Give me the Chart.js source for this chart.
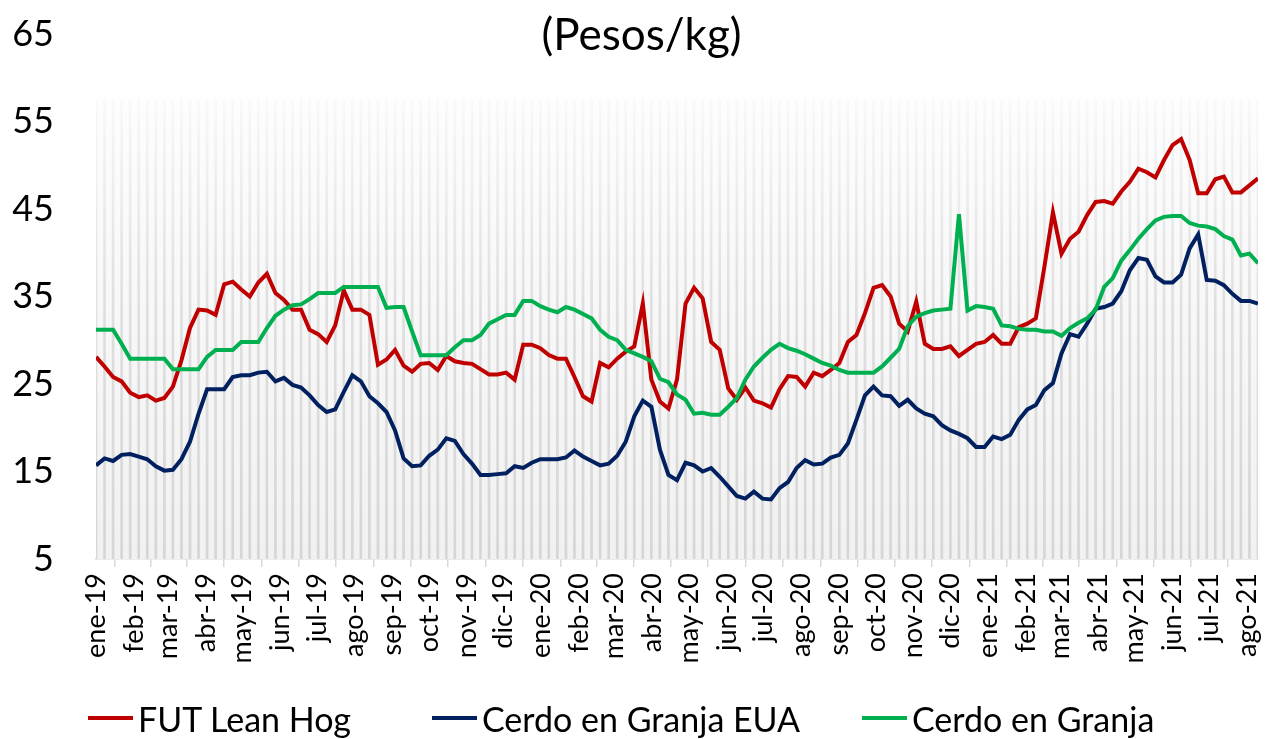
<!DOCTYPE html>
<html>
<head>
<meta charset="utf-8"/>
<title>Precios cerdo</title>
<style>
  body { margin: 0; background: #ffffff; }
  #wrap { position: relative; width: 1265px; height: 739px; font-family: Lato, "Open Sans", sans-serif; }
  #titulo { position: absolute; left: 0; width: 1265px; top: 6px; text-align: center; font-size: 44px; color: #000; line-height: 54px; padding-left: 18px; box-sizing: border-box; }
  .leg { position: absolute; top: 697px; height: 42px; display: flex; align-items: center; font-size: 34px; color: #000; white-space: nowrap; }
  .leg span.ln { display: inline-block; width: 45px; height: 4px; margin-right: 5px; }
</style>
</head>
<body>
<div id="wrap">
  <canvas id="grafica" width="1265" height="739"></canvas>
  <div id="titulo">(Pesos/kg)</div>
  <div class="leg" style="left:88px"><span class="ln" style="background:#c00000"></span>FUT Lean Hog</div>
  <div class="leg" style="left:432px"><span class="ln" style="background:#002060"></span>Cerdo en Granja EUA</div>
  <div class="leg" style="left:862px"><span class="ln" style="background:#00b050"></span>Cerdo en Granja</div>
</div>

<script src="https://cdn.jsdelivr.net/npm/chart.js"></script>
<script>
    // semanas desde el 1 de enero de 2019
    const inicio = Date.UTC(2019, 0, 1);

    const meses = ["ene-19", "feb-19", "mar-19", "abr-19", "may-19", "jun-19", "jul-19", "ago-19", "sep-19", "oct-19", "nov-19", "dic-19",
                   "ene-20", "feb-20", "mar-20", "abr-20", "may-20", "jun-20", "jul-20", "ago-20", "sep-20", "oct-20", "nov-20", "dic-20",
                   "ene-21", "feb-21", "mar-21", "abr-21", "may-21", "jun-21", "jul-21", "ago-21"];

    const futLeanHog = [28.1, 27.0, 25.8, 25.3, 24.0, 23.5, 23.7, 23.1, 23.4, 24.7,
        27.7, 31.4, 33.5, 33.4, 32.9, 36.4, 36.7, 35.8, 35.0, 36.6,
        37.6, 35.4, 34.6, 33.5, 33.5, 31.2, 30.7, 29.8, 31.7, 35.7,
        33.5, 33.5, 32.9, 27.2, 27.8, 28.9, 27.1, 26.4, 27.3, 27.4,
        26.6, 28.2, 27.6, 27.4, 27.3, 26.7, 26.1, 26.1, 26.3, 25.5,
        29.5, 29.5, 29.1, 28.3, 27.9, 27.9, 25.8, 23.6, 23.0, 27.4,
        26.9, 27.9, 28.7, 29.3, 34.2, 25.5, 23.0, 22.2, 25.5, 34.2,
        36.0, 34.8, 29.8, 28.9, 24.5, 23.2, 24.6, 23.1, 22.8, 22.3,
        24.4, 25.9, 25.8, 24.7, 26.3, 25.9, 26.6, 27.4, 29.8, 30.6,
        33.1, 36.0, 36.3, 35.0, 31.9, 31.0, 34.4, 29.6, 29.0, 29.0,
        29.3, 28.2, 28.9, 29.6, 29.8, 30.6, 29.6, 29.6, 31.5, 31.9,
        32.5, 38.4, 44.6, 39.9, 41.6, 42.4, 44.3, 45.8, 45.9, 45.6,
        47.0, 48.1, 49.6, 49.2, 48.6, 50.6, 52.3, 53.0, 50.6, 46.8,
        46.8, 48.4, 48.7, 46.9, 46.9, 47.7, 48.5];

    const cerdoEUA = [15.7, 16.5, 16.2, 16.9, 17.0, 16.7, 16.4, 15.6, 15.1, 15.2,
        16.4, 18.4, 21.6, 24.4, 24.4, 24.4, 25.8, 26.0, 26.0, 26.3,
        26.4, 25.3, 25.7, 24.9, 24.6, 23.7, 22.6, 21.8, 22.1, 24.1,
        26.0, 25.3, 23.6, 22.8, 21.8, 19.7, 16.5, 15.6, 15.7, 16.8,
        17.5, 18.8, 18.5, 17.0, 15.9, 14.6, 14.6, 14.7, 14.8, 15.6,
        15.4, 16.0, 16.4, 16.4, 16.4, 16.6, 17.4, 16.7, 16.2, 15.7,
        15.9, 16.8, 18.4, 21.3, 23.1, 22.4, 17.5, 14.6, 14.0, 16.0,
        15.7, 15.0, 15.4, 14.4, 13.3, 12.2, 11.9, 12.7, 11.9, 11.8,
        13.1, 13.8, 15.4, 16.3, 15.8, 15.9, 16.6, 16.9, 18.2, 20.9,
        23.7, 24.7, 23.7, 23.6, 22.5, 23.2, 22.2, 21.6, 21.3, 20.3,
        19.7, 19.3, 18.8, 17.8, 17.8, 19.0, 18.7, 19.2, 20.9, 22.1,
        22.6, 24.3, 25.1, 28.5, 30.7, 30.4, 31.9, 33.6, 33.8, 34.2,
        35.6, 38.0, 39.4, 39.2, 37.3, 36.6, 36.6, 37.5, 40.5, 42.1,
        36.9, 36.8, 36.3, 35.3, 34.5, 34.5, 34.2];

    const cerdoGranja = [31.2, 31.2, 31.2, 29.6, 27.9, 27.9, 27.9, 27.9, 27.9, 26.7,
        26.7, 26.7, 26.7, 28.1, 28.9, 28.9, 28.9, 29.8, 29.8, 29.8,
        31.4, 32.8, 33.5, 34.0, 34.1, 34.7, 35.4, 35.4, 35.4, 36.1,
        36.1, 36.1, 36.1, 36.1, 33.7, 33.8, 33.8, 31.0, 28.3, 28.3,
        28.3, 28.3, 29.2, 30.0, 30.0, 30.6, 31.9, 32.4, 32.9, 32.9,
        34.5, 34.5, 33.9, 33.5, 33.2, 33.8, 33.5, 33.0, 32.5, 31.2,
        30.4, 30.0, 28.9, 28.5, 28.1, 27.6, 25.6, 25.2, 23.8, 23.2,
        21.6, 21.7, 21.5, 21.5, 22.4, 23.4, 25.5, 27.0, 28.0, 28.9,
        29.6, 29.1, 28.8, 28.4, 27.9, 27.4, 27.1, 26.6, 26.3, 26.3,
        26.3, 26.3, 27.0, 28.0, 29.0, 31.6, 32.7, 33.1, 33.4, 33.5,
        33.6, 44.4, 33.4, 33.9, 33.8, 33.6, 31.7, 31.6, 31.3, 31.2,
        31.2, 31.0, 31.0, 30.5, 31.4, 32.0, 32.5, 33.5, 36.1, 37.1,
        39.1, 40.3, 41.6, 42.7, 43.7, 44.1, 44.2, 44.2, 43.4, 43.1,
        43.0, 42.7, 41.9, 41.5, 39.7, 39.9, 38.8];

    // columnas de fondo
    const fondo = 57.5;

    const yTicks = [5, 15, 25, 35, 45, 55, 65];

    // posicion (en semanas) del primer dia de cada mes
    const posMeses = meses.map((m, k) => (Date.UTC(2019 + Math.floor(k / 12), k % 12, 1) - inicio) / (7 * 86400000));

    const puntos = (arr) => arr.map((v, i) => ({ x: i, y: v }));

    function gradFondo(context) {
        const chart = context.chart;
        const area = chart.chartArea;
        if (!area) return '#f4f4f4';
        const top = chart.scales.y.getPixelForValue(fondo);
        const g = chart.ctx.createLinearGradient(0, top, 0, area.bottom);
        g.addColorStop(0, '#fdfdfd');
        g.addColorStop(1, '#f1f1f1');
        return g;
    }

    function gradRayas(context) {
        const chart = context.chart;
        const area = chart.chartArea;
        if (!area) return '#d9d9d9';
        const top = chart.scales.y.getPixelForValue(fondo);
        const g = chart.ctx.createLinearGradient(0, top, 0, area.bottom);
        g.addColorStop(0, 'rgba(215,215,215,0.1)');
        g.addColorStop(0.45, 'rgba(215,215,215,0.75)');
        g.addColorStop(1, 'rgba(212,212,212,0.95)');
        return g;
    }

    const ctx = document.getElementById('grafica').getContext('2d');
    new Chart(ctx, {
        data: {
            datasets: [
                {
                    type: 'line', label: 'FUT Lean Hog', data: puntos(futLeanHog),
                    borderColor: '#c00000', borderWidth: 4, pointRadius: 0, tension: 0, order: 2
                },
                {
                    type: 'line', label: 'Cerdo en Granja EUA', data: puntos(cerdoEUA),
                    borderColor: '#002060', borderWidth: 4, pointRadius: 0, tension: 0, order: 1
                },
                {
                    type: 'line', label: 'Cerdo en Granja', data: puntos(cerdoGranja),
                    borderColor: '#00b050', borderWidth: 4, pointRadius: 0, tension: 0, order: 0
                },
                {
                    type: 'bar', label: 'fondo', data: futLeanHog.map((v, i) => ({ x: i, y: fondo })),
                    backgroundColor: gradFondo, barPercentage: 1, categoryPercentage: 1,
                    grouped: false, order: 10
                },
                {
                    type: 'bar', label: 'rayas', data: futLeanHog.map((v, i) => ({ x: i, y: fondo })),
                    backgroundColor: gradRayas, barThickness: 2,
                    grouped: false, order: 9
                }
            ]
        },
        options: {
            responsive: false,
            animation: false,
            devicePixelRatio: 1,
            layout: { padding: { top: 34, right: 7, left: 0, bottom: 0 } },
            plugins: {
                legend: { display: false },
                tooltip: { enabled: false }
            },
            scales: {
                x: {
                    type: 'linear',
                    min: 0,
                    max: futLeanHog.length - 1,
                    bounds: 'data',
                    offset: false,
                    afterBuildTicks: (scale) => {
                        scale.ticks = posMeses.map(v => ({ value: v }));
                    },
                    afterFit: (scale) => {
                        scale.height = 180;
                        scale.paddingLeft = 0;
                        scale.paddingRight = 0;
                    },
                    ticks: {
                        autoSkip: false,
                        maxRotation: 90,
                        minRotation: 90,
                        padding: 6,
                        color: '#000',
                        font: { family: 'Lato', size: 27 },
                        callback: (value, index) => meses[index]
                    },
                    grid: {
                        drawOnChartArea: false,
                        drawTicks: true,
                        tickLength: 8,
                        color: '#d9d9d9',
                        lineWidth: 1.5
                    },
                    border: { display: true, color: '#d9d9d9', width: 1.5 }
                },
                y: {
                    min: 5,
                    max: 65,
                    afterBuildTicks: (scale) => {
                        scale.ticks = yTicks.map(v => ({ value: v }));
                    },
                    afterFit: (scale) => {
                        scale.width = 96;
                        scale.paddingTop = 0;
                        scale.paddingBottom = 0;
                    },
                    ticks: {
                        padding: 42,
                        color: '#000',
                        font: { family: 'Lato', size: 36 }
                    },
                    grid: { display: false, drawTicks: false },
                    border: { display: false }
                }
            }
        }
    });
</script>
</body>
</html>
